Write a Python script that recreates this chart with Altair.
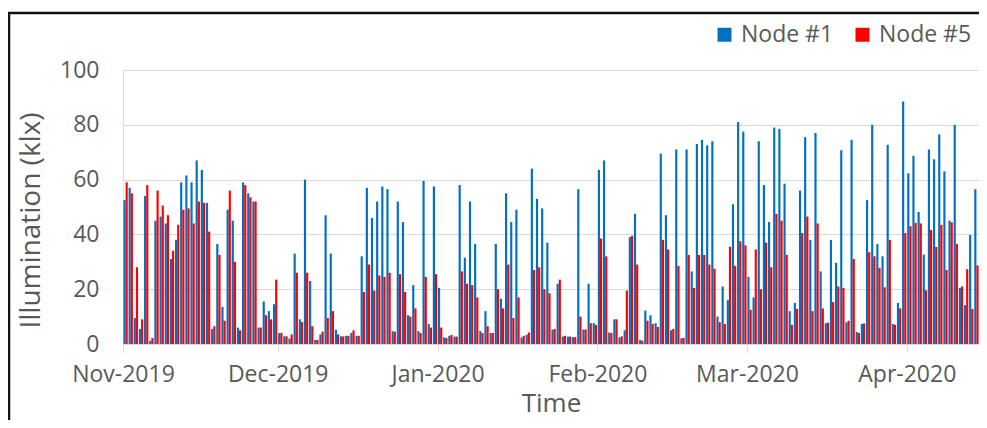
import altair as alt
import pandas as pd

# Daily illumination (klx), one value per day from 2019-11-01
start_date = "2019-11-01"
node1 = [52.5, 57, 9.5, 5.5, 54, 1.2, 45, 46.5, 44, 31, 38, 59, 61.5, 59, 67, 63.5, 51.5, 5.5, 36.5, 13.5,
         49, 45, 6, 59, 55, 52, 6, 15.5, 12, 14.5, 4, 2.8, 2, 33, 9, 60, 23, 1.5, 3.5, 47,
         33, 5.2, 2.8, 3, 4, 3, 32, 57, 46, 52, 57.5, 56.5, 4.7, 52, 44.5, 10.5, 21.5, 4.7, 59.5, 7.3,
         57.5, 20.5, 2.4, 3, 2.7, 58, 31.5, 52, 36.5, 4.7, 12, 4, 36.5, 16.5, 55, 44.5, 49, 2.4, 3.4, 64,
         53, 49.5, 37, 5.2, 22, 2.7, 2.7, 2.5, 56.5, 5.3, 22, 7.6, 63.5, 67, 4.2, 9, 2.4, 5, 39, 47.5,
         1.5, 12.2, 10.5, 7.6, 69.5, 47, 5, 71, 2.1, 71, 26.5, 73, 74.5, 72.5, 74, 10, 21, 16, 51, 81,
         77.5, 24.5, 17, 74, 58, 44.5, 79, 78.5, 58.5, 12, 15, 56, 75.5, 38, 77, 26.5, 7.6, 38, 29.6, 70.7,
         7.9, 74.5, 4.4, 7.3, 52.5, 80, 36.5, 32, 72.7, 7.3, 15, 88.5, 62.3, 68.7, 48.2, 32.6, 71, 67.4, 76.5, 63,
         45, 80, 20.5, 14.2, 39.8, 56.5, 69.6]
node5 = [59, 55, 28, 9, 58, 2.2, 56, 50.5, 47, 34, 43.5, 49, 49.5, 44, 52, 51.5, 41, 6.5, 32.5, 8.5,
         56, 30, 5, 58, 53.5, 52, 6, 10.5, 9, 23.5, 4, 2.8, 3.5, 26, 8, 26, 6.5, 1.5, 4.5, 9.5,
         12, 3.5, 2.8, 3, 5, 3, 19, 29, 19.5, 25, 24.5, 26, 4.5, 25.5, 19, 10, 13, 4, 24.5, 6,
         25.5, 6, 2.2, 3.3, 2.7, 26.5, 22, 21.5, 17, 4, 6.5, 4, 20, 13, 29, 9.5, 17, 3, 4.2, 27,
         28, 20, 18.5, 5.5, 23.5, 3, 2.7, 2.5, 10, 5.3, 7.6, 7, 38.5, 32, 4, 9, 2.8, 19.5, 39.5, 29,
         1.2, 8.5, 7.3, 6.2, 38, 34.5, 5.5, 28.5, 2.2, 32.5, 20.5, 32.5, 32.5, 29, 27.5, 8, 7.3, 35.5, 28.5, 37.5,
         36, 12.5, 34.5, 20, 37, 28, 47.5, 45, 32.5, 7, 12.8, 40.5, 46.5, 12, 44, 13, 7.8, 15.3, 21, 20.5,
         8.5, 31, 4, 7.5, 33.5, 32, 27.8, 20.7, 38, 7, 13, 40.5, 43, 44.2, 44, 19.6, 41.6, 35.4, 43.5, 27,
         44.4, 36.5, 21, 27.3, 12.8, 28.7, 26]
series_names = ["Node #1", "Node #5"]
series_colors = ["#0070C0", "#FF0000"]
month_labels = ["Nov-2019", "Dec-2019", "Jan-2020", "Feb-2020", "Mar-2020", "Apr-2020"]
month_start_days = [0, 30, 61, 92, 121, 152]
y_ticks = [0, 20, 40, 60, 80, 100]

dates = pd.date_range(start_date, periods=len(node1), freq="D")
rows = []
for i, d in enumerate(dates):
    rows.append({"day": i, "date": d.strftime("%Y-%m-%d"), "series": series_names[0], "value": node1[i]})
    rows.append({"day": i, "date": d.strftime("%Y-%m-%d"), "series": series_names[1], "value": node5[i]})
df = pd.DataFrame(rows)

label_map = "{" + ",".join(f"'{d}':'{l}'" for d, l in zip(month_start_days, month_labels)) + "}"

FONT = "Open Sans"
GRAY = "#595959"
W, H = 856, 274

bars = alt.Chart(df).transform_calculate(
    x0="datum.day + (datum.series == 'Node #1' ? 0.08 : 0.5)",
    x1="datum.day + (datum.series == 'Node #1' ? 0.5 : 0.92)",
    base="0",
).mark_bar(clip=True).encode(
    x=alt.X("x0:Q",
            scale=alt.Scale(domain=[0, 166], nice=False, zero=False),
            axis=alt.Axis(values=month_start_days, labelExpr=f"{label_map}[datum.value]",
                          title="Time", grid=False, domainColor="#D9D9D9", tickColor="#D9D9D9",
                          tickSize=8, labelPadding=11, labelFont=FONT, labelFontSize=23,
                          labelColor=GRAY, titleFont=FONT, titleFontSize=26, titleFontWeight="normal",
                          titleColor=GRAY, titlePadding=4, labelFlush=False)),
    x2="x1:Q",
    y=alt.Y("value:Q", stack=None,
            scale=alt.Scale(domain=[0, 100], nice=False),
            axis=alt.Axis(values=y_ticks, title="Illumination (klx)", domain=False, ticks=False,
                          gridColor="#D9D9D9", labelPadding=24, labelFont=FONT, labelFontSize=23,
                          labelColor=GRAY, titleFont=FONT, titleFontSize=28, titleFontWeight="normal",
                          titleColor=GRAY, titlePadding=14, titleY=150)),
    y2="base:Q",
    color=alt.Color("series:N",
                    scale=alt.Scale(domain=series_names, range=series_colors),
                    legend=alt.Legend(title=None, orient="none", legendX=590, legendY=-47,
                                      direction="horizontal", symbolType="square", symbolSize=196,
                                      symbolStrokeWidth=0, labelFont=FONT, labelFontSize=23,
                                      labelColor=GRAY, labelOffset=5, columnPadding=17)),
)

frame_data = alt.Data(values=[{"k": 1}])
frame_left = alt.Chart(frame_data).mark_rule(color="#111111", strokeWidth=2.5).encode(
    x=alt.value(-114), y=alt.value(-58), y2=alt.value(H + 80))
frame_top = alt.Chart(frame_data).mark_rule(color="#111111", strokeWidth=2.5).encode(
    x=alt.value(-115), x2=alt.value(W), y=alt.value(-57))

chart = alt.layer(bars, frame_left, frame_top).properties(
    width=W, height=H,
    autosize=alt.AutoSizeParams(type="none"),
    padding={"left": 115, "top": 62, "right": 0, "bottom": 76},
).configure_view(stroke=None).configure(background="white")

chart.save("out.html", embed_options={"renderer": "svg", "actions": False})
